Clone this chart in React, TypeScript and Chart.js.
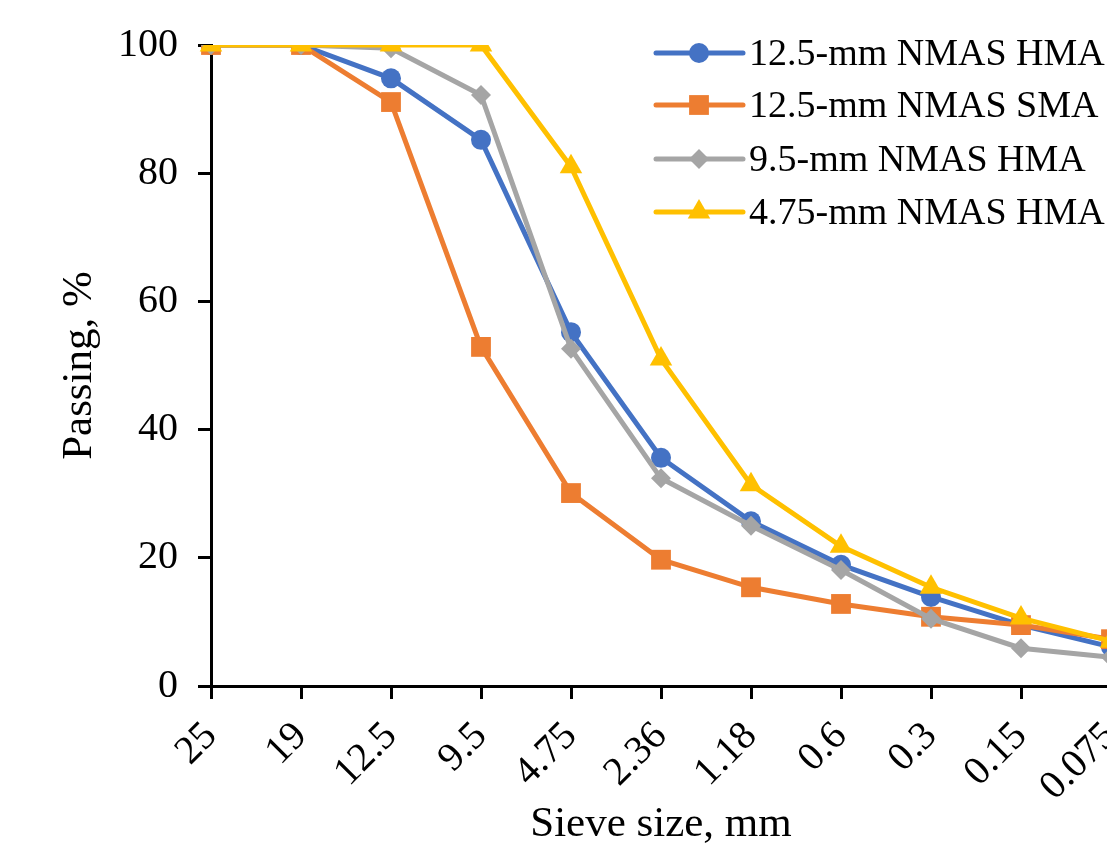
import { useEffect, useRef } from 'react';
import { Chart, registerables } from 'chart.js';
import { drawPoint } from 'chart.js/helpers';

Chart.register(...registerables);

const sieveSizes = ['25', '19', '12.5', '9.5', '4.75', '2.36', '1.18', '0.6', '0.3', '0.15', '0.075'];
const hma125 = [100, 100, 94.8, 85.2, 55.2, 35.6, 25.7, 18.9, 13.9, 9.5, 6.1];
const sma125 = [100, 100, 91.1, 52.9, 30.1, 19.7, 15.4, 12.8, 10.8, 9.5, 7.3];
const hma95 = [100, 100, 99.5, 92.2, 52.6, 32.4, 25.0, 18.1, 10.5, 5.9, 4.5];
const hma475 = [100, 100, 100, 100, 81.0, 51.0, 31.4, 21.8, 15.4, 10.6, 7.0];
const seriesNames = ['12.5-mm NMAS HMA', '12.5-mm NMAS SMA', '9.5-mm NMAS HMA', '4.75-mm NMAS HMA'];
const seriesColors = ['#4472C4', '#ED7D31', '#A5A5A5', '#FFC000'];
const seriesPoints = ['circle', 'rect', 'rectRot', 'triangle'];
const seriesRadius = [10, 14, 10, 13];
const yMin = 0;
const yMax = 100;
const yStep = 20;

const FONT = '"Liberation Serif", "Times New Roman", serif';
const W = 1160;
const H = 851;

const legendPlugin = {
  id: 'customLegend',
  afterDraw(chart: any) {
    const ctx = chart.ctx;
    ctx.save();
    const x0 = 656;
    const x1 = 743;
    const mx = 699;
    const tx = 749;
    const rows = [53, 105, 159, 212];
    seriesNames.forEach((name, i) => {
      const y = rows[i];
      ctx.strokeStyle = seriesColors[i];
      ctx.lineWidth = 5;
      ctx.lineCap = 'round';
      ctx.beginPath();
      ctx.moveTo(x0, y);
      ctx.lineTo(x1, y);
      ctx.stroke();
      ctx.fillStyle = seriesColors[i];
      drawPoint(ctx, { pointStyle: seriesPoints[i], radius: seriesRadius[i], rotation: 0, borderWidth: 0 } as any, mx, y);
      ctx.fillStyle = '#000';
      ctx.font = `38px ${FONT}`;
      ctx.textAlign = 'left';
      ctx.textBaseline = 'middle';
      ctx.fillText(name, tx, y + 2);
    });
    ctx.restore();
  },
};

export default function App() {
  const ref = useRef<HTMLCanvasElement>(null);
  useEffect(() => {
    if (!ref.current) return;
    const data = [hma125, sma125, hma95, hma475];
    const chart = new Chart(ref.current, {
      type: 'line',
      data: {
        labels: sieveSizes,
        datasets: data.map((d, i) => ({
          label: seriesNames[i],
          data: d,
          borderColor: seriesColors[i],
          backgroundColor: seriesColors[i],
          borderWidth: 5,
          pointStyle: seriesPoints[i] as any,
          pointRadius: seriesRadius[i],
          pointBorderWidth: 0,
          pointBackgroundColor: seriesColors[i],
          tension: 0,
          fill: false,
          order: 3 - i,
        })),
      },
      options: {
        responsive: false,
        animation: false,
        events: [],
        layout: { padding: { top: 45, right: W - 1111, bottom: 0, left: 0 } },
        plugins: {
          legend: { display: false },
          tooltip: { enabled: false },
        },
        scales: {
          x: {
            type: 'category',
            offset: false,
            border: { display: true, color: '#000', width: 3 },
            grid: { display: true, drawOnChartArea: false, drawTicks: true, tickLength: 13, color: '#000', lineWidth: 3 },
            ticks: {
              color: '#000',
              font: { family: FONT, size: 40 },
              minRotation: 45,
              maxRotation: 45,
              autoSkip: false,
              padding: 14,
            },
            title: {
              display: true,
              text: 'Sieve size, mm',
              color: '#000',
              font: { family: FONT, size: 43 },
              padding: { top: 0, bottom: 0 },
            },
            afterFit(scale: any) {
              scale.height = H - 686;
              scale.paddingLeft = 0;
              scale.paddingRight = 0;
            },
          },
          y: {
            min: yMin,
            max: yMax,
            border: { display: true, color: '#000', width: 3 },
            grid: { display: true, drawOnChartArea: false, drawTicks: true, tickLength: 13, color: '#000', lineWidth: 3 },
            ticks: {
              stepSize: yStep,
              color: '#000',
              font: { family: FONT, size: 40 },
              padding: 20,
            },
            title: {
              display: true,
              text: 'Passing, %',
              color: '#000',
              font: { family: FONT, size: 43 },
              padding: { top: 54, bottom: 0 },
            },
            afterFit(scale: any) {
              scale.width = 211;
              scale.paddingTop = 0;
              scale.paddingBottom = 0;
            },
          },
        },
      },
      plugins: [legendPlugin],
    });
    return () => chart.destroy();
  }, []);
  return (
    <div style={{ position: 'absolute', left: 0, top: 0, width: 1107, height: H, overflow: 'hidden', background: '#fff' }}>
      <canvas ref={ref} width={W} height={H} style={{ display: 'block', width: W, height: H }} />
    </div>
  );
}
